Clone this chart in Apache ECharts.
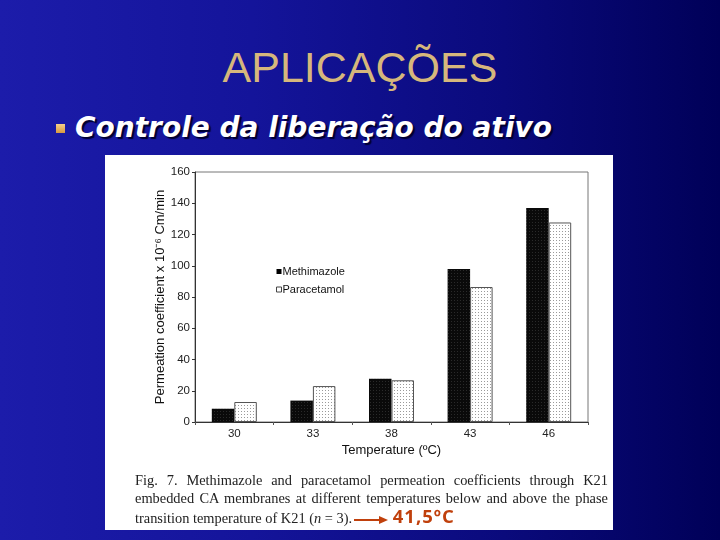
<!DOCTYPE html>
<html>
<head>
<meta charset="utf-8">
<script src="https://cdn.jsdelivr.net/npm/echarts@6/dist/echarts.min.js"></script>
<style>
  html, body { margin:0; padding:0; }
  body { width:720px; height:540px; overflow:hidden; position:relative;
    background: linear-gradient(to right, #1c1caa 0%, #14149a 35%, #0a0a7c 70%, #000058 100%); }
  #title { position:absolute; left:0; width:720px; top:43px; text-align:center;
    font-family:"Liberation Sans", Arial, sans-serif; font-size:43px; color:#d6b77c; }
  #bullet { position:absolute; left:56px; top:124px; width:9px; height:9px;
    background: linear-gradient(#f6d08a, #d89a40); }
  #sub { position:absolute; left:75px; top:111px; font-family:"DejaVu Sans", Verdana, sans-serif;
    font-weight:bold; font-style:italic; font-size:28px; color:#ffffff; text-shadow:2px 2px 1px #000030; white-space:nowrap; }
  #panel { position:absolute; left:105px; top:155px; width:508px; height:375px; background:#fff; }
  #chart { position:absolute; left:105px; top:155px; width:508px; height:375px; }
  #caption { position:absolute; left:135px; top:471px; width:473px;
    font-family:"Liberation Serif", "Times New Roman", serif; font-size:14.4px; line-height:18px; color:#222; }
  .j { text-align:justify; text-align-last:justify; white-space:nowrap; }
  .l { white-space:nowrap; }
  .temp { color:#c0400c; font-family:"Open Sans", "DejaVu Sans", sans-serif; font-weight:bold; font-size:18.5px; letter-spacing:1px; }
</style>
</head>
<body>
<div id="title">APLICAÇÕES</div>
<div id="bullet"></div>
<div id="sub">Controle da liberação do ativo</div>
<div id="panel"></div>
<div id="chart"></div>
<div id="caption">
  <div class="j">Fig. 7. Methimazole and paracetamol permeation coefficients through K21</div>
  <div class="j">embedded CA membranes at different temperatures below and above the phase</div>
  <div class="l">transition temperature of K21 (<i>n</i> = 3).<svg width="35" height="10" style="vertical-align:middle;margin-left:2px"><line x1="0" y1="5" x2="27" y2="5" stroke="#c0400c" stroke-width="2"/><polygon points="25,1 34,5 25,9" fill="#c0400c"/></svg> <span class="temp">41,5ºC</span></div>
</div>
<script>
const categories = ['30', '33', '38', '43', '46'];
const methimazole = [8.5, 13.7, 27.7, 98, 137];
const paracetamol = [12.8, 23, 26.7, 86.4, 127.7];
const yTicks = { min: 0, max: 160, interval: 20 };

function dotPattern(bg, dot) {
  const c = document.createElement('canvas');
  c.width = 3; c.height = 3;
  const g = c.getContext('2d');
  g.fillStyle = bg; g.fillRect(0, 0, 3, 3);
  g.fillStyle = dot; g.fillRect(1, 1, 1, 1);
  return c;
}

const chart = echarts.init(document.getElementById('chart'));
chart.setOption({
  animation: false,
  backgroundColor: 'transparent',
  textStyle: { fontFamily: '"Liberation Sans", Arial, sans-serif' },
  grid: { left: 90, right: 25, top: 17, bottom: 108, show: true, borderColor: '#777', borderWidth: 1 },
  legend: {
    orient: 'vertical', left: 166, top: 106, itemWidth: 5, itemHeight: 5, itemGap: 7,
    textStyle: { fontSize: 11, color: '#111', padding: [0, 0, 0, -4] },
    data: [
      { name: 'Methimazole', icon: 'rect', itemStyle: { color: '#000', borderWidth: 0 } },
      { name: 'Paracetamol', icon: 'rect', itemStyle: { color: '#fff', borderColor: '#444', borderWidth: 1 } }
    ]
  },
  xAxis: {
    type: 'category', data: categories,
    name: 'Temperature (ºC)', nameLocation: 'middle', nameGap: 22, nameMoveOverlap: false,
    nameTextStyle: { fontSize: 13, color: '#111' },
    axisLine: { lineStyle: { color: '#333' } },
    axisTick: { show: true, length: 3, lineStyle: { color: '#555' } },
    axisLabel: { fontSize: 11.5, color: '#222', margin: 6 }
  },
  yAxis: {
    type: 'value', min: yTicks.min, max: yTicks.max, interval: yTicks.interval,
    name: 'Permeation coefficient x 10⁻⁶ Cm/min', nameLocation: 'middle', nameGap: 28, nameMoveOverlap: false,
    nameTextStyle: { fontSize: 13, color: '#111' },
    axisLine: { show: true, lineStyle: { color: '#333' } },
    axisTick: { show: true, length: 3, lineStyle: { color: '#333' } },
    axisLabel: { fontSize: 11.5, color: '#222', margin: 5 },
    splitLine: { show: false }
  },
  series: [
    { name: 'Methimazole', type: 'bar', data: methimazole, barWidth: 22.5, barGap: '0%',
      itemStyle: { color: { image: dotPattern('#0a0a0a', '#2a2a2a'), repeat: 'repeat' } } },
    { name: 'Paracetamol', type: 'bar', data: paracetamol, barWidth: 22.5,
      itemStyle: { color: { image: dotPattern('#ffffff', '#9a9a9a'), repeat: 'repeat' }, borderColor: '#555', borderWidth: 1 } }
  ]
});
</script>
</body>
</html>
